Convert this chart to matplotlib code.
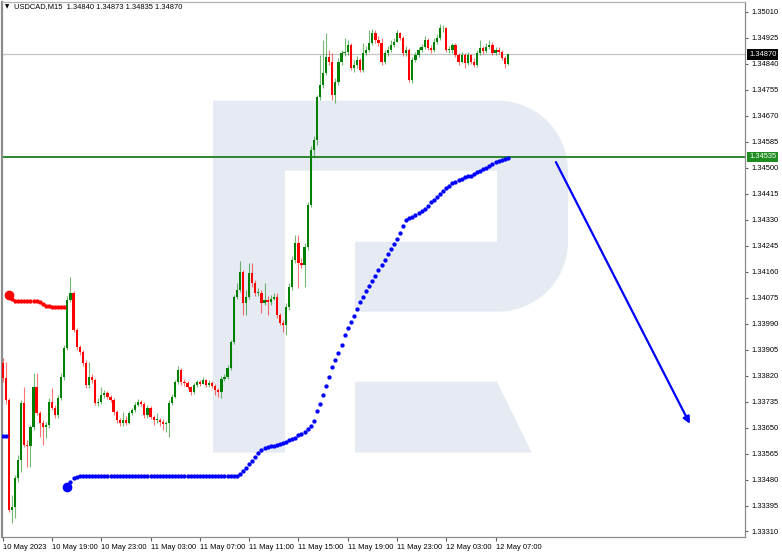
import numpy as np
import matplotlib
matplotlib.use("Agg")
import matplotlib.pyplot as plt
from matplotlib.patches import Polygon

# USDCAD M15, bars from 10 May 2023 15:00
symbol = "USDCAD,M15"
last_ohlc = [1.34840, 1.34873, 1.34835, 1.34870]
first_open = 1.33861

closes = [
    1.33812, 1.33740, 1.33380, 1.33390, 1.33485, 1.33544, 1.33730, 1.33593, 1.33590, 1.33652,
    1.33783, 1.33698, 1.33665, 1.33652, 1.33658, 1.33734, 1.33714, 1.33691, 1.33747, 1.33815,
    1.33910, 1.34067, 1.34090, 1.33969, 1.33913, 1.33897, 1.33861, 1.33789, 1.33815, 1.33805,
    1.33730, 1.33734, 1.33756, 1.33763, 1.33750, 1.33740, 1.33701, 1.33675, 1.33665, 1.33675,
    1.33665, 1.33698, 1.33707, 1.33724, 1.33734, 1.33727, 1.33691, 1.33714, 1.33684, 1.33675,
    1.33675, 1.33668, 1.33662, 1.33665, 1.33730, 1.33750, 1.33799, 1.33838, 1.33799, 1.33796,
    1.33783, 1.33766, 1.33789, 1.33799, 1.33792, 1.33805, 1.33789, 1.33796, 1.33786, 1.33773,
    1.33766, 1.33809, 1.33815, 1.33845, 1.33930, 1.34077, 1.34100, 1.34159, 1.34057, 1.34077,
    1.34155, 1.34123, 1.34090, 1.34090, 1.34057, 1.34067, 1.34060, 1.34070, 1.34077, 1.34018,
    1.33992, 1.33985, 1.34044, 1.34110, 1.34198, 1.34253, 1.34188, 1.34181, 1.34240, 1.34378,
    1.34557, 1.34590, 1.34731, 1.34770, 1.34809, 1.34862, 1.34845, 1.34737, 1.34780, 1.34845,
    1.34875, 1.34878, 1.34901, 1.34826, 1.34835, 1.34852, 1.34819, 1.34875, 1.34885, 1.34907,
    1.34940, 1.34917, 1.34907, 1.34845, 1.34875, 1.34885, 1.34901, 1.34911, 1.34940, 1.34924,
    1.34875, 1.34885, 1.34786, 1.34852, 1.34868, 1.34885, 1.34894, 1.34917, 1.34891, 1.34885,
    1.34911, 1.34924, 1.34956, 1.34956, 1.34885, 1.34885, 1.34901, 1.34868, 1.34845, 1.34868,
    1.34842, 1.34868, 1.34845, 1.34835, 1.34875, 1.34891, 1.34881, 1.34894, 1.34901, 1.34875,
    1.34885, 1.34878, 1.34858, 1.34840, 1.34870,
]
highs = [
    1.33877, 1.33864, 1.33747, 1.33429, 1.33495, 1.33560, 1.33740, 1.33783, 1.33609, 1.33658,
    1.33828, 1.33828, 1.33704, 1.33675, 1.33668, 1.33747, 1.33779, 1.33724, 1.33756, 1.33828,
    1.33920, 1.34080, 1.34142, 1.34096, 1.33975, 1.33920, 1.33904, 1.33871, 1.33864, 1.33825,
    1.33812, 1.33747, 1.33783, 1.33773, 1.33769, 1.33756, 1.33747, 1.33707, 1.33681, 1.33701,
    1.33688, 1.33704, 1.33714, 1.33734, 1.33743, 1.33740, 1.33734, 1.33724, 1.33720, 1.33691,
    1.33698, 1.33681, 1.33678, 1.33671, 1.33740, 1.33760, 1.33805, 1.33851, 1.33845, 1.33809,
    1.33802, 1.33786, 1.33796, 1.33805, 1.33805, 1.33815, 1.33809, 1.33805, 1.33802, 1.33792,
    1.33779, 1.33818, 1.33825, 1.33854, 1.33936, 1.34083, 1.34123, 1.34195, 1.34165, 1.34100,
    1.34188, 1.34188, 1.34132, 1.34106, 1.34100, 1.34123, 1.34080, 1.34083, 1.34090, 1.34090,
    1.34025, 1.34002, 1.34057, 1.34123, 1.34211, 1.34280, 1.34280, 1.34204, 1.34253, 1.34387,
    1.34571, 1.34603, 1.34737, 1.34868, 1.34917, 1.34940, 1.34885, 1.34875, 1.34793, 1.34858,
    1.34885, 1.34924, 1.34917, 1.34907, 1.34852, 1.34865, 1.34858, 1.34907, 1.34898, 1.34950,
    1.34953, 1.34950, 1.34930, 1.34924, 1.34885, 1.34898, 1.34917, 1.34924, 1.34950, 1.34943,
    1.34930, 1.34898, 1.34891, 1.34862, 1.34878, 1.34894, 1.34904, 1.34930, 1.34924, 1.34901,
    1.34924, 1.34937, 1.34970, 1.34966, 1.34960, 1.34898, 1.34907, 1.34907, 1.34875, 1.34878,
    1.34875, 1.34878, 1.34871, 1.34858, 1.34885, 1.34917, 1.34898, 1.34907, 1.34917, 1.34911,
    1.34894, 1.34894, 1.34885, 1.34865, 1.34873,
]
lows = [
    1.33799, 1.33727, 1.33374, 1.33338, 1.33354, 1.33472, 1.33505, 1.33586, 1.33521, 1.33521,
    1.33642, 1.33691, 1.33619, 1.33593, 1.33616, 1.33648, 1.33707, 1.33681, 1.33681, 1.33740,
    1.33805, 1.33904, 1.34060, 1.33962, 1.33904, 1.33887, 1.33851, 1.33779, 1.33779, 1.33796,
    1.33724, 1.33720, 1.33727, 1.33747, 1.33743, 1.33734, 1.33691, 1.33665, 1.33655, 1.33655,
    1.33658, 1.33662, 1.33691, 1.33701, 1.33720, 1.33720, 1.33681, 1.33681, 1.33678, 1.33658,
    1.33665, 1.33655, 1.33642, 1.33635, 1.33619, 1.33724, 1.33747, 1.33792, 1.33789, 1.33786,
    1.33776, 1.33756, 1.33760, 1.33783, 1.33786, 1.33792, 1.33783, 1.33783, 1.33779, 1.33756,
    1.33750, 1.33747, 1.33802, 1.33809, 1.33838, 1.33923, 1.34070, 1.34093, 1.34018, 1.34018,
    1.34070, 1.34110, 1.34080, 1.34080, 1.34025, 1.34051, 1.34018, 1.34051, 1.34067, 1.34008,
    1.33985, 1.33962, 1.33953, 1.34034, 1.34100, 1.34188, 1.34106, 1.34172, 1.34110, 1.34230,
    1.34371, 1.34535, 1.34574, 1.34721, 1.34760, 1.34803, 1.34835, 1.34721, 1.34711, 1.34770,
    1.34835, 1.34865, 1.34868, 1.34819, 1.34813, 1.34826, 1.34813, 1.34813, 1.34868, 1.34878,
    1.34901, 1.34907, 1.34898, 1.34835, 1.34839, 1.34865, 1.34878, 1.34894, 1.34911, 1.34917,
    1.34865, 1.34865, 1.34780, 1.34777, 1.34845, 1.34862, 1.34878, 1.34888, 1.34885, 1.34875,
    1.34878, 1.34904, 1.34917, 1.34943, 1.34878, 1.34875, 1.34875, 1.34862, 1.34835, 1.34842,
    1.34826, 1.34835, 1.34839, 1.34829, 1.34829, 1.34868, 1.34871, 1.34876, 1.34888, 1.34868,
    1.34868, 1.34871, 1.34852, 1.34826, 1.34835,
]

time_labels = ["10 May 2023", "10 May 19:00", "10 May 23:00", "11 May 03:00", "11 May 07:00",
               "11 May 11:00", "11 May 15:00", "11 May 19:00", "11 May 23:00", "12 May 03:00",
               "12 May 07:00"]
bars_per_label = 16

price_ticks = [1.33310, 1.33395, 1.33480, 1.33565, 1.33650, 1.33735, 1.33820, 1.33905, 1.33990,
               1.34075, 1.34160, 1.34245, 1.34330, 1.34415, 1.34500, 1.34585, 1.34670, 1.34755,
               1.34840, 1.34925, 1.35010]

level_price = 1.34535
bid_price = 1.34870

# dotted trailing indicator, three segments
blue_prev_start = 0
blue_prev = [1.33622, 1.33622]
red_start = 2
red_line = [1.34083, 1.34070, 1.34065, 1.34065, 1.34065, 1.34065, 1.34065, 1.34065, 1.34065,
            1.34065, 1.34060, 1.34054, 1.34049, 1.34046, 1.34044, 1.34044, 1.34044, 1.34044,
            1.34044]
blue_start = 21
blue_line = [
    1.33457, 1.33472, 1.33485, 1.33488,
    1.33491, 1.33491, 1.33491, 1.33491, 1.33491, 1.33491, 1.33491, 1.33491, 1.33491, 1.33491, 1.33491, 1.33491, 1.33491,
    1.33491, 1.33491, 1.33491, 1.33491, 1.33491, 1.33491, 1.33491, 1.33491, 1.33491, 1.33491, 1.33491, 1.33491, 1.33491,
    1.33491, 1.33491, 1.33491, 1.33491, 1.33491, 1.33491, 1.33491, 1.33491, 1.33491, 1.33491, 1.33491, 1.33491, 1.33491,
    1.33491, 1.33491, 1.33491, 1.33491, 1.33491, 1.33491, 1.33491, 1.33491, 1.33491, 1.33491, 1.33491, 1.33491, 1.33491,
    1.33498, 1.33508, 1.33519, 1.33531, 1.33540, 1.33554, 1.33567, 1.33576, 1.33583, 1.33586,
    1.33588, 1.33591, 1.33593, 1.33596, 1.33599, 1.33603, 1.33608, 1.33612, 1.33617, 1.33626,
    1.33629, 1.33635, 1.33645, 1.33655, 1.33671, 1.33704, 1.33727, 1.33756, 1.33786, 1.33815,
    1.33848, 1.33871, 1.33894, 1.33920, 1.33953, 1.33975, 1.33995, 1.34015, 1.34038, 1.34060,
    1.34077, 1.34096, 1.34113, 1.34129, 1.34145, 1.34165, 1.34181, 1.34198, 1.34216, 1.34234,
    1.34250, 1.34268, 1.34286, 1.34309, 1.34327, 1.34335, 1.34338, 1.34345, 1.34351, 1.34358,
    1.34366, 1.34376, 1.34386, 1.34394, 1.34404, 1.34414, 1.34423, 1.34433, 1.34441, 1.34450,
    1.34454, 1.34459, 1.34464, 1.34468, 1.34471, 1.34474, 1.34479, 1.34484, 1.34489, 1.34495,
    1.34500, 1.34505, 1.34512, 1.34517, 1.34522, 1.34525, 1.34528, 1.34530,
]

# forecast arrow (bar index, price)
forecast_from = (179.6, 1.34518)
forecast_to = (223.1, 1.33662)

W, H = 782, 554
FS = 5.4
plt.rcParams['font.family'] = ['Liberation Sans', 'DejaVu Sans']
fig = plt.figure(figsize=(W / 100, H / 100), dpi=100)
ax = fig.add_axes([2 / W, 1 - 537 / H, 743 / W, 535 / H])

bull, bear = '#008000', '#ff0000'

# light "R" watermark, figure pixel coords
def to_fig(pts):
    return [(px / W, 1 - py / H) for px, py in pts]

r = 70
t = np.linspace(0, np.pi / 2, 20)
top_arc = [(498 + r * np.sin(a), 170.7 - r * np.cos(a)) for a in t]
bot_arc = [(498 + r * np.cos(a), 241.7 + r * np.sin(a)) for a in t]
outline = ([(213, 100.7)] + top_arc + bot_arc +
           [(355, 311.7), (355, 241.7), (497, 241.7), (497, 170.7), (285, 170.7),
            (285, 452.7), (213, 452.7)])
leg = [(355, 381.7), (497, 381.7), (531.7, 452.7), (355, 452.7)]
for shape in (outline, leg):
    ax.add_patch(Polygon(to_fig(shape), closed=True, transform=fig.transFigure,
                         fc='#e6ebf3', ec='none', zorder=0.5))

ax.axhline(bid_price, color='#c4c4c4', lw=0.9, zorder=1)
ax.axhline(level_price, color='#1e7d1e', lw=1.3, zorder=2)

# candles
n = len(closes)
x = np.arange(n)
c = np.array(closes)
o = np.array([first_open] + closes[:-1])
colors = np.where(c >= o, bull, bear)
ax.vlines(x, lows, highs, colors=colors, lw=0.8, alpha=0.55, zorder=3)
ax.bar(x, np.maximum(np.abs(c - o), 0.00002), bottom=np.minimum(o, c), width=0.72,
       color=colors, lw=0, zorder=4)

# indicator dots
segments = [(blue_prev_start, blue_prev, '#0000ff'),
            (red_start, red_line, '#ff0000'),
            (blue_start, blue_line, '#0000ff')]
for start, vals, col in segments:
    xs = np.arange(start, start + len(vals))
    ax.plot(xs, vals, 'o', color=col, ms=3.1, mew=0, zorder=5)
    if start > 0:
        ax.plot(xs[0], vals[0], 'o', color=col, ms=7, mew=0, zorder=5)

ax.annotate('', xy=forecast_to, xytext=forecast_from,
            arrowprops=dict(arrowstyle='-|>', color='#0000ff', lw=1.6,
                            mutation_scale=10, shrinkA=0, shrinkB=0), zorder=6)

ax.set_xlim(-0.23, 241.0)
ax.set_ylim(1.332920, 1.350415)

ax.set_xticks(np.arange(len(time_labels)) * bars_per_label)
ax.set_xticklabels(time_labels, fontsize=FS, ha='left')
ax.yaxis.tick_right()
ax.set_yticks(price_ticks)
ax.set_yticklabels([f"{p:.5f}" for p in price_ticks], fontsize=FS)
ax.tick_params(axis='x', length=3, width=0.8, color='#606060', pad=2)
ax.tick_params(axis='y', length=2.5, width=0.8, color='#606060', pad=2)

for side in ('top', 'bottom', 'left', 'right'):
    ax.spines[side].set_color('#8c8c8c')
    ax.spines[side].set_linewidth(0.9)
ax.spines['left'].set_linewidth(1.6)
ax.spines['top'].set_color('#b4b4b4')

# price tags on the scale
for price, bg in ((bid_price, 'black'), (level_price, '#1e8c1e')):
    ax.annotate(f"{price:.5f}", xy=(1, price), xycoords=('axes fraction', 'data'),
                xytext=(3, 0), textcoords='offset points', va='center', ha='left',
                fontsize=FS, color='white', zorder=10, annotation_clip=False,
                bbox=dict(boxstyle='square,pad=0.25', fc=bg, ec='none'))

fig.text(5 / W, 1 - 7 / H, "\u25bc", fontsize=4, va='center', family='DejaVu Sans')
fig.text(14 / W, 1 - 7 / H, symbol + "  " + " ".join(f"{v:.5f}" for v in last_ohlc),
         fontsize=FS, va='center')

fig.savefig("out.png", dpi=100)
